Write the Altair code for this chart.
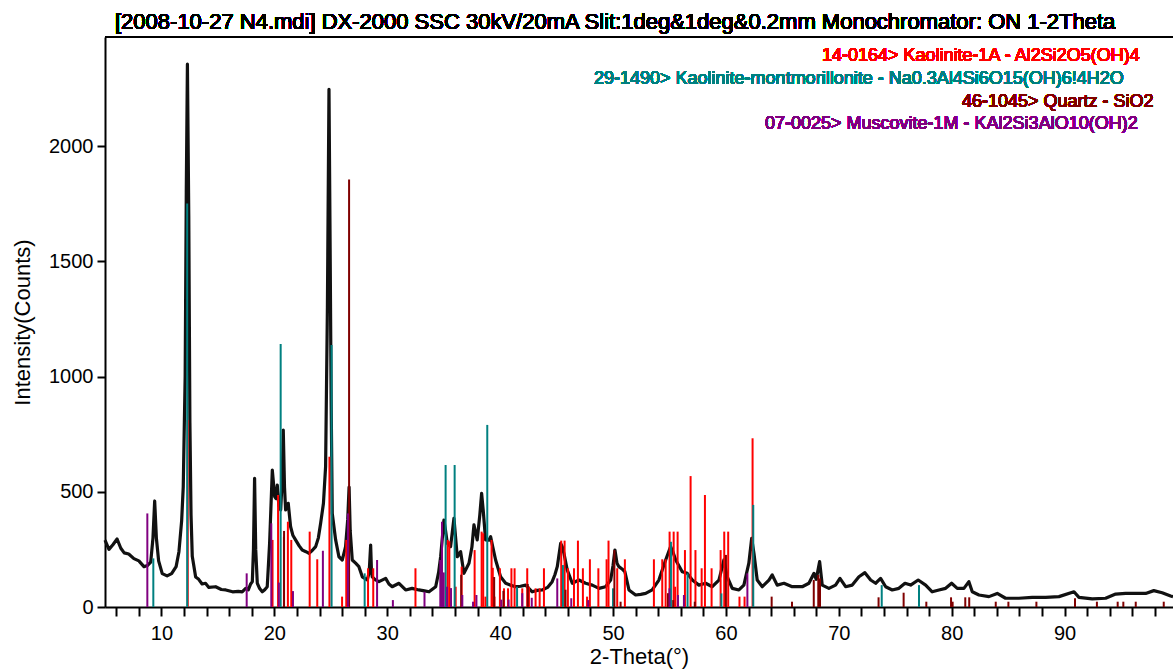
import altair as alt
import pandas as pd

# ---- measured diffraction pattern (2-theta in degrees, intensity in counts) ----
two_theta = [
    5.0, 5.35, 5.7, 6.07, 6.4, 6.7, 7.1, 7.56, 8.0, 8.45, 8.75, 9.05, 9.25, 9.4, 9.55,
    9.75, 10.07, 10.5, 10.9, 11.3, 11.55, 11.79, 11.93, 12.1, 12.2, 12.3, 12.42, 12.52,
    12.62, 12.73, 13.03, 13.3, 13.6, 13.9, 14.2, 14.8, 15.3, 15.7, 16.3, 16.8, 17.15,
    17.46, 17.7, 17.9, 18.05, 18.15, 18.25, 18.35, 18.49, 18.7, 18.93, 19.15, 19.37,
    19.58, 19.82, 20.03, 20.15, 20.26, 20.4, 20.56, 20.7, 20.79, 20.9, 21.0, 21.23,
    21.44, 21.65, 21.88, 22.2, 22.47, 22.8, 23.07, 23.35, 23.66, 23.9, 24.1, 24.35,
    24.54, 24.7, 24.84, 24.95, 25.03, 25.13, 25.43, 25.72, 26.02, 26.31, 26.5, 26.62,
    26.72, 26.9, 27.2, 27.49, 27.79, 28.23, 28.4, 28.53, 28.6, 28.67, 28.95, 29.27,
    29.86, 30.15, 30.44, 31.04, 31.63, 32.2, 32.8, 33.3, 33.7, 34.29, 34.55, 34.73,
    35.02, 35.17, 35.32, 35.61, 35.91, 36.2, 36.5, 36.79, 37.24, 37.5, 37.68, 37.97,
    38.2, 38.36, 38.5, 38.71, 39.0, 39.16, 39.35, 39.6, 40.04, 40.49, 40.9, 41.37,
    41.8, 42.26, 42.84, 43.3, 43.73, 44.2, 44.61, 44.85, 45.06, 45.36, 45.5, 45.65,
    45.94, 46.39, 46.98, 47.57, 48.16, 48.75, 49.34, 49.79, 50.0, 50.17, 50.35, 50.52,
    50.8, 51.05, 51.41, 52.0, 52.45, 52.89, 53.47, 54.06, 54.66, 55.1, 55.3, 55.55,
    56.13, 56.58, 57.02, 57.61, 58.2, 58.79, 59.38, 59.65, 59.82, 60.12, 60.56, 61.15,
    61.59, 62.03, 62.28, 62.48, 62.77, 63.22, 63.81, 64.1, 64.54, 65.14, 65.87, 66.76,
    67.35, 67.8, 68.0, 68.3, 68.53, 69.12, 69.71, 70.1, 70.6, 71.19, 71.78, 72.31,
    72.82, 73.26, 73.7, 74.15, 74.73, 75.32, 75.86, 76.36, 77.03, 77.69, 78.27, 78.87,
    79.46, 79.99, 80.49, 81.08, 81.52, 81.82, 82.41, 83.3, 84.03, 84.77, 85.95, 87.13,
    88.32, 89.5, 90.83, 91.27, 92.45, 93.63, 94.52, 95.4, 96.29, 97.18, 97.9, 98.64,
    99.39, 99.6,
]
counts = [
    290, 250, 270, 295, 255, 235, 230, 210, 200, 175, 180, 195, 300, 460, 300,
    200, 145, 135, 145, 175, 240, 375, 520, 1000, 1800, 2355, 1700, 800,
    400, 220, 130, 120, 100, 103, 85, 88, 76, 74, 66, 68, 66,
    81, 75, 100, 110, 250, 558, 250, 103, 80, 66, 75, 88,
    276, 594, 479, 470, 529, 440, 421, 560, 768, 520, 421, 450,
    348, 310, 291, 265, 247, 240, 233, 245, 262, 300, 363, 450,
    609, 1300, 2246, 1500, 900, 406, 291, 218, 204, 262, 380, 520,
    330, 204, 190, 175, 131, 117, 150, 269, 160, 131, 118, 110,
    124, 100, 88, 103, 74, 81, 74, 70, 66, 88, 150, 218,
    377, 330, 276, 262, 385, 218, 240, 146, 190, 260, 356, 291,
    400, 493, 420, 291, 290, 305, 260, 204, 131, 103, 95, 88,
    90, 95, 66, 72, 74, 85, 110, 140, 175, 276, 262, 233,
    161, 103, 117, 103, 95, 81, 88, 117, 180, 247, 190, 175,
    165, 153, 74, 52, 55, 59, 74, 117, 204, 262, 240, 204,
    153, 146, 117, 95, 103, 88, 117, 170, 204, 131, 81, 74,
    95, 190, 298, 233, 117, 88, 117, 139, 95, 103, 88, 88,
    103, 146, 120, 197, 95, 81, 95, 124, 88, 95, 131, 149,
    117, 103, 124, 88, 74, 81, 103, 95, 117, 95, 66, 74,
    81, 103, 81, 81, 110, 66, 52, 45, 59, 38, 38, 42,
    42, 45, 66, 42, 35, 38, 56, 59, 59, 59, 71, 62,
    48, 45,
]

# ---- reference card stick positions / heights ----
kaolinite_pos = [12.33, 19.84, 20.33, 20.85, 21.2, 21.5, 23.13, 23.8, 24.88, 26.0, 26.37,
                 28.3, 28.76, 32.5, 35.35, 35.5, 36.06, 36.59, 37.74, 38.36, 38.5, 38.7,
                 39.24, 39.35, 39.5, 39.98, 40.34, 40.7, 41.0, 41.28, 41.96, 42.4, 42.55,
                 43.14, 43.5, 43.88, 45.41, 45.71, 46.0, 46.54, 46.89, 47.33, 47.7, 47.95,
                 48.7, 49.43, 49.6, 50.37, 51.05, 53.62, 54.36, 54.66, 55.01, 55.37, 55.5,
                 55.72, 56.37, 56.87, 57.3, 57.85, 58.14, 58.73, 59.53, 59.85, 60.2, 61.2,
                 61.65, 62.36]
kaolinite_int = [811, 291, 486, 305, 370, 291, 327, 207, 652, 45, 291,
                 168, 168, 168, 291, 285, 88, 175, 247, 327, 320, 45,
                 291, 170, 45, 168, 81, 81, 168, 168, 81, 168, 88,
                 81, 81, 168, 288, 288, 168, 168, 288, 168, 45, 207,
                 168, 207, 288, 168, 207, 207, 207, 207, 327, 327, 88,
                 327, 247, 568, 247, 168, 486, 168, 247, 327, 327, 45,
                 45, 732]

kmont_pos = [9.28, 12.28, 20.56, 25.07, 28.0, 35.17, 35.97, 38.86, 41.5, 45.56, 50.0,
             55.13, 56.6, 59.6, 62.42, 73.8, 77.1]
kmont_int = [211, 1751, 1141, 1137, 146, 616, 616, 790, 88, 182, 81,
             283, 146, 59, 443, 95, 95]

quartz_pos = [20.86, 26.62, 36.55, 39.47, 40.29, 42.45, 45.79, 50.12, 50.67, 54.87, 55.33,
              57.24, 60.0, 64.05, 65.85, 67.78, 68.18, 68.33, 73.52, 75.74, 77.75, 79.94,
              80.08, 81.2, 81.55, 83.9, 85.02, 87.5, 90.92, 92.86, 94.7, 95.2, 96.3, 98.78]
quartz_int = [330, 1855, 140, 130, 70, 100, 75, 247, 23, 60, 30,
              23, 226, 45, 23, 117, 139, 124, 42, 62, 23, 42,
              23, 42, 42, 23, 23, 23, 38, 23, 23, 23, 23, 23]

muscovite_pos = [8.75, 17.55, 19.73, 20.4, 21.65, 24.3, 26.52, 29.1, 30.5, 33.3, 34.7,
                 34.85, 35.0, 35.3, 35.65, 36.65, 37.6, 37.9, 40.1, 40.75, 41.96, 42.8,
                 45.06, 46.3, 47.8, 55.0, 55.75, 56.28, 61.9]
muscovite_int = [406, 146, 363, 106, 69, 244, 406, 204, 30, 66, 204,
                 370, 150, 88, 82, 52, 23, 52, 32, 32, 60, 40,
                 124, 38, 30, 81, 52, 52, 146]

card_labels = [
    "14-0164> Kaolinite-1A - Al2Si2O5(OH)4",
    "29-1490> Kaolinite-montmorillonite - Na0.3Al4Si6O15(OH)6!4H2O",
    "46-1045> Quartz - SiO2",
    "07-0025> Muscovite-1M - KAl2Si3AlO10(OH)2",
]
card_colors = ["#FF0000", "#008080", "#800000", "#800080"]

title_text = ("[2008-10-27 N4.mdi] DX-2000 SSC 30kV/20mA Slit:1deg&1deg&0.2mm "
              "Monochromator: ON 1-2Theta")

# ---- layout ----
W, H = 1068, 570
FONT = "Liberation Sans"
x_scale = alt.Scale(domain=[5, 99.6], nice=False, zero=False)
y_scale = alt.Scale(domain=[0, 2473], nice=False)

x_axis = alt.Axis(
    values=list(range(6, 100, 2)),
    labelExpr="datum.value % 10 === 0 ? datum.label : ''",
    title="2-Theta(°)", titleFont=FONT, titleFontSize=22, titleFontWeight="normal",
    titleColor="black", titlePadding=3,
    labelFont=FONT, labelFontSize=20, labelColor="black", labelPadding=7,
    labelFlush=False, labelOverlap=False,
    tickSize=9, tickWidth=2, tickColor="black",
    domainWidth=2, domainColor="black", grid=False,
)
y_axis = alt.Axis(
    values=[0, 500, 1000, 1500, 2000], format="d",
    title="Intensity(Counts)", titleFont=FONT, titleFontSize=22, titleFontWeight="normal",
    titleColor="black", titlePadding=14,
    labelFont=FONT, labelFontSize=20, labelColor="black", labelPadding=4,
    tickSize=8, tickWidth=2, tickColor="black",
    domainWidth=2, domainColor="black", grid=False,
)

X = alt.X("two_theta:Q", scale=x_scale, axis=x_axis)
Y = alt.Y("counts:Q", scale=y_scale, axis=y_axis)

pattern = pd.DataFrame({"two_theta": two_theta, "counts": counts})
curve = alt.Chart(pattern).mark_line(
    color="#111111", strokeWidth=3.2, strokeJoin="round"
).encode(x=X, y=Y)


def sticks(pos, inten, color):
    df = pd.DataFrame({"two_theta": pos, "counts": inten, "base": [0] * len(pos)})
    return alt.Chart(df).mark_rule(color=color, strokeWidth=2).encode(
        x=X, y=Y, y2="base:Q"
    )


layers = [
    curve,
    sticks(kaolinite_pos, kaolinite_int, card_colors[0]),
    sticks(kmont_pos, kmont_int, card_colors[1]),
    sticks(quartz_pos, quartz_int, card_colors[2]),
    sticks(muscovite_pos, muscovite_int, card_colors[3]),
]

# top frame line
layers.append(
    alt.Chart(pattern).mark_rule(color="black", strokeWidth=2).encode(
        x=alt.value(0), x2=alt.value(W), y=alt.value(0)
    )
)

# header line
layers.append(
    alt.Chart(pattern).mark_text(
        text=title_text, font=FONT, fontSize=22, align="left", baseline="alphabetic",
        color="black",
    ).encode(x=alt.value(10), y=alt.value(-8))
)

# card legend, one line per reference pattern
legend_x = [717, 489, 857, 660]
legend_y = [24, 47, 70, 92]
for label, color, lx, ly in zip(card_labels, card_colors, legend_x, legend_y):
    layers.append(
        alt.Chart(pattern).mark_text(
            text=label, font=FONT, fontSize=18, align="left", baseline="alphabetic",
            color=color,
        ).encode(x=alt.value(lx), y=alt.value(ly))
    )

chart = alt.layer(*layers).properties(
    width=W, height=H,
    padding={"left": 105, "top": 37, "right": 0, "bottom": 64},
    autosize=alt.AutoSizeParams(type="none"),
    background="white",
).configure_view(stroke=None)

chart.save("out.html", embed_options={"renderer": "svg", "actions": False})
